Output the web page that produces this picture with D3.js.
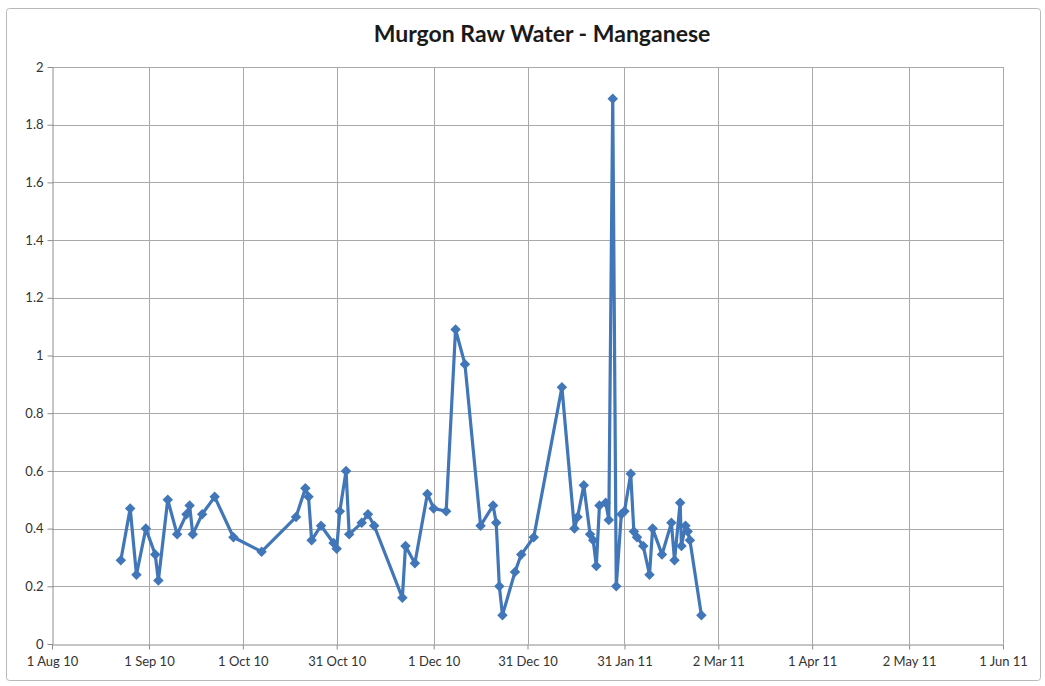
<!DOCTYPE html>
<html>
<head>
<meta charset="utf-8">
<script src="https://cdn.jsdelivr.net/npm/d3@7"></script>
<style>
  body { margin: 0; background: #fff; }
  svg { display: block; font-family: Lato, "Open Sans", sans-serif; }
</style>
</head>
<body>
<svg id="chart"></svg>
<script>
// sample dates and manganese values (mg/L)
const sampleDates = [
  '2010-08-23', '2010-08-26', '2010-08-28', '2010-08-31', '2010-09-03', '2010-09-04',
  '2010-09-07', '2010-09-10', '2010-09-13', '2010-09-14', '2010-09-15', '2010-09-18',
  '2010-09-22', '2010-09-28', '2010-10-07', '2010-10-18', '2010-10-21', '2010-10-22',
  '2010-10-23', '2010-10-26', '2010-10-30', '2010-10-31', '2010-11-01', '2010-11-03',
  '2010-11-04', '2010-11-08', '2010-11-10', '2010-11-12', '2010-11-21', '2010-11-22',
  '2010-11-25', '2010-11-29', '2010-12-01', '2010-12-05', '2010-12-08', '2010-12-11',
  '2010-12-16', '2010-12-20', '2010-12-21', '2010-12-22', '2010-12-23', '2010-12-27',
  '2010-12-29', '2011-01-02', '2011-01-11', '2011-01-15', '2011-01-16', '2011-01-18',
  '2011-01-20', '2011-01-21', '2011-01-22', '2011-01-23', '2011-01-25', '2011-01-26',
  '2011-01-27T06:00', '2011-01-28T09:00', '2011-01-30', '2011-01-31', '2011-02-02', '2011-02-03',
  '2011-02-04', '2011-02-06', '2011-02-08', '2011-02-09', '2011-02-12', '2011-02-15',
  '2011-02-16', '2011-02-17T19:00', '2011-02-18T05:00', '2011-02-19T12:00',
  '2011-02-20T05:00', '2011-02-20T22:00', '2011-02-24T14:00'
];
const manganese = [
  0.29, 0.47, 0.24, 0.40, 0.31, 0.22,
  0.50, 0.38, 0.45, 0.48, 0.38, 0.45,
  0.51, 0.37, 0.32, 0.44, 0.54, 0.51,
  0.36, 0.41, 0.35, 0.33, 0.46, 0.60,
  0.38, 0.42, 0.45, 0.41, 0.16, 0.34,
  0.28, 0.52, 0.47, 0.46, 1.09, 0.97,
  0.41, 0.48, 0.42, 0.20, 0.10, 0.25,
  0.31, 0.37, 0.89, 0.40, 0.44, 0.55,
  0.38, 0.36, 0.27, 0.48, 0.49, 0.43,
  1.89, 0.20, 0.45, 0.46, 0.59, 0.39,
  0.37, 0.34, 0.24, 0.40, 0.31, 0.42,
  0.29, 0.49, 0.34, 0.41,
  0.39, 0.36, 0.10
];
const xTickDates = ['2010-08-01', '2010-09-01', '2010-10-01', '2010-10-31', '2010-12-01',
  '2010-12-31', '2011-01-31', '2011-03-02', '2011-04-01', '2011-05-02', '2011-06-01'];
const yTicks = [0, 0.2, 0.4, 0.6, 0.8, 1, 1.2, 1.4, 1.6, 1.8, 2];
const chartTitle = 'Murgon Raw Water - Manganese';

const width = 1045, height = 686;
const margin = {top: 67, right: 42, bottom: 42, left: 52};

const svg = d3.select('#chart').attr('width', width).attr('height', height);

// chart frame
svg.append('rect')
  .attr('x', 6.5).attr('y', 8.5)
  .attr('width', 1034).attr('height', 672)
  .attr('fill', '#fff').attr('stroke', '#b8b8b8').attr('rx', 3);

const parse = d3.isoParse;
const data = sampleDates.map((d, i) => ({date: parse(d), value: manganese[i]}));
const tickDates = xTickDates.map(parse);

const x = d3.scaleTime()
  .domain([tickDates[0], tickDates[tickDates.length - 1]])
  .range([margin.left, width - margin.right]);
const y = d3.scaleLinear()
  .domain([0, 2])
  .range([height - margin.bottom, margin.top]);

// gridlines
svg.append('g')
  .selectAll('line')
  .data(yTicks.filter(t => t > 0))
  .join('line')
  .attr('x1', margin.left).attr('x2', width - margin.right)
  .attr('y1', d => Math.round(y(d)) + 0.5).attr('y2', d => Math.round(y(d)) + 0.5)
  .attr('stroke', '#a9a9a9').attr('stroke-width', 1);

svg.append('g')
  .selectAll('line')
  .data(tickDates.slice(1))
  .join('line')
  .attr('y1', margin.top).attr('y2', y(0))
  .attr('x1', d => Math.round(x(d)) + 0.5).attr('x2', d => Math.round(x(d)) + 0.5)
  .attr('stroke', '#a9a9a9').attr('stroke-width', 1);

// axes
const fmt = d3.timeFormat('%-d %b %y');
const xAxis = svg.append('g')
  .attr('transform', `translate(0,${Math.round(y(0)) + 0.5})`)
  .call(d3.axisBottom(x).tickValues(tickDates).tickFormat(fmt).tickSize(5).tickSizeOuter(0));
const yAxis = svg.append('g')
  .attr('transform', `translate(${margin.left + 0.5},0)`)
  .call(d3.axisLeft(y).tickValues(yTicks).tickFormat(d3.format('~g')).tickSize(5).tickSizeOuter(0));

[xAxis, yAxis].forEach(g => {
  g.select('.domain').attr('stroke', '#8c8c8c');
  g.selectAll('.tick line').attr('stroke', '#8c8c8c');
  g.selectAll('.tick text')
    .attr('fill', '#333')
    .style('font-size', '13px')
    .style('font-family', 'Lato, "Open Sans", sans-serif');
});
xAxis.selectAll('.tick text').attr('dy', '1.05em');
yAxis.selectAll('.tick text').attr('x', -9);

// title
svg.append('text')
  .attr('x', 542).attr('y', 42)
  .attr('text-anchor', 'middle')
  .style('font-size', '23px').style('font-weight', 'bold')
  .attr('fill', '#1a1a1a')
  .text(chartTitle);

// series
const line = d3.line().x(d => x(d.date)).y(d => y(d.value));
svg.append('path')
  .datum(data)
  .attr('d', line)
  .attr('fill', 'none')
  .attr('stroke', '#4176b8')
  .attr('stroke-width', 3.2)
  .attr('stroke-linejoin', 'round');

svg.append('g')
  .selectAll('path')
  .data(data)
  .join('path')
  .attr('transform', d => `translate(${x(d.date)},${y(d.value)})`)
  .attr('d', d3.symbol(d3.symbolDiamond2, 70))
  .attr('fill', '#4176b8');
</script>
</body>
</html>
